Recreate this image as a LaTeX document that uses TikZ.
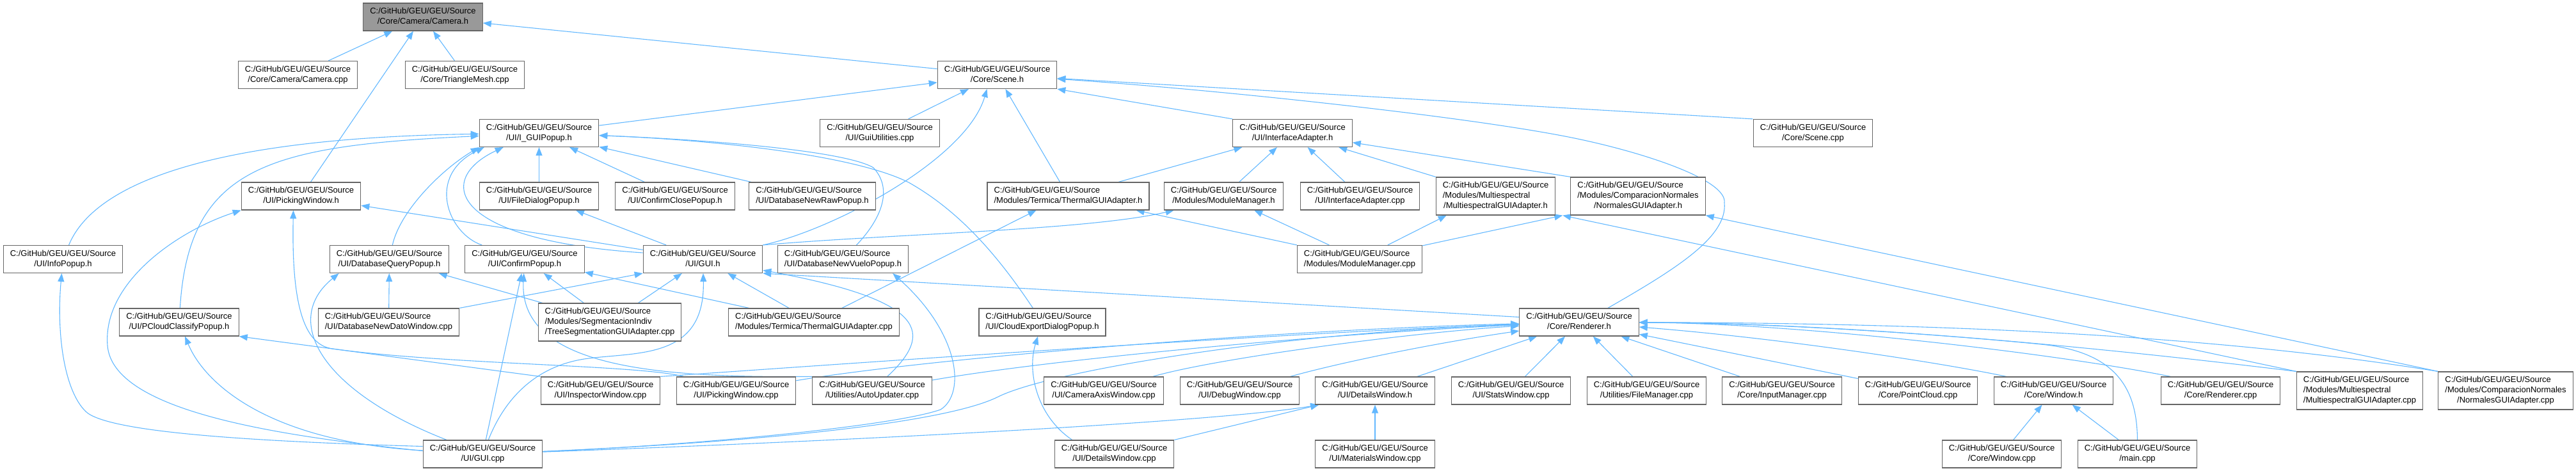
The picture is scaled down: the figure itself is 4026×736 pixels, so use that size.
\documentclass[tikz,border=0pt]{standalone}
\usepackage{fontspec}
\setmainfont{Liberation Sans}
\usetikzlibrary{arrows.meta}
\definecolor{edgec}{HTML}{63B8FF}
\definecolor{boxc}{HTML}{666666}
\definecolor{curc}{HTML}{999999}
\newcommand{\lb}[1]{\begin{tabular}{@{}l@{}}C:/GitHub/GEU/GEU/Source\\\multicolumn{1}{@{}c@{}}{#1}\end{tabular}}
\newcommand{\lbb}[2]{\begin{tabular}{@{}l@{}}C:/GitHub/GEU/GEU/Source\\#1\\\multicolumn{1}{@{}c@{}}{#2}\end{tabular}}
\pgfdeclarelayer{bg}
\pgfsetlayers{bg,main}
\begin{document}
\begin{tikzpicture}[x=1pt,y=-1pt,
  box/.style={draw=boxc,line width=1.2pt,fill=white,inner xsep=10.5pt,inner ysep=5.5pt,font=\fontsize{13}{16}\selectfont},
  curbox/.style={box,fill=curc},
  dep/.style={draw=edgec,line width=1.1pt,-{Triangle[length=13pt,width=10pt]}}]
\useasboundingbox (0,0) rectangle (4026,736);
% row 1
\node[curbox] (cameraH) at (661,26.5) {\lb{/Core/Camera/Camera.h}};
% row 2
\node[box] (cameraCpp) at (465.5,117) {\lb{/Core/Camera/Camera.cpp}};
\node[box] (trimeshCpp) at (726.5,117) {\lb{/Core/TriangleMesh.cpp}};
\node[box] (sceneH) at (1558.5,117) {\lb{/Core/Scene.h}};
% row 3
\node[box] (iguiH) at (842.5,208) {\lb{/UI/I\_GUIPopup.h}};
\node[box] (guiutilCpp) at (1375,208) {\lb{/UI/GuiUtilities.cpp}};
\node[box] (iadapterH) at (2020,208) {\lb{/UI/InterfaceAdapter.h}};
\node[box] (sceneCpp) at (2833.5,208) {\lb{/Core/Scene.cpp}};
% row 4
\node[box] (pickingH) at (470.5,306.5) {\lb{/UI/PickingWindow.h}};
\node[box] (filedlgH) at (842.5,306.5) {\lb{/UI/FileDialogPopup.h}};
\node[box] (confcloseH) at (1055,306.5) {\lb{/UI/ConfirmClosePopup.h}};
\node[box] (dbnewrawH) at (1269.5,306.5) {\lb{/UI/DatabaseNewRawPopup.h}};
\node[box] (thermalH) at (1669.5,306.5) {\lb{/Modules/Termica/ThermalGUIAdapter.h}};
\node[box] (modmgrH) at (1912.5,306.5) {\lb{/Modules/ModuleManager.h}};
\node[box] (iadapterCpp) at (2125.5,306.5) {\lb{/UI/InterfaceAdapter.cpp}};
\node[box] (multiH) at (2337.5,306.5) {\lbb{/Modules/Multiespectral}{/MultiespectralGUIAdapter.h}};
\node[box] (normalesH) at (2560,306.5) {\lbb{/Modules/ComparacionNormales}{/NormalesGUIAdapter.h}};
% row 5
\node[box] (infoH) at (98.5,405) {\lb{/UI/InfoPopup.h}};
\node[box] (dbqueryH) at (608.5,405) {\lb{/UI/DatabaseQueryPopup.h}};
\node[box] (confirmH) at (820,405) {\lb{/UI/ConfirmPopup.h}};
\node[box] (guiH) at (1098.5,405) {\lb{/UI/GUI.h}};
\node[box] (dbnewvueloH) at (1317.5,405) {\lb{/UI/DatabaseNewVueloPopup.h}};
\node[box] (modmgrCpp) at (2125,405) {\lb{/Modules/ModuleManager.cpp}};
% row 6
\node[box] (pcloudH) at (280,503.5) {\lb{/UI/PCloudClassifyPopup.h}};
\node[box] (dbnewdatoCpp) at (607.5,503.5) {\lb{/UI/DatabaseNewDatoWindow.cpp}};
\node[box] (treesegCpp) at (953,503.5) {\lbb{/Modules/SegmentacionIndiv}{/TreeSegmentationGUIAdapter.cpp}};
\node[box] (thermalCpp) at (1272,503.5) {\lb{/Modules/Termica/ThermalGUIAdapter.cpp}};
\node[box] (cloudexpH) at (1629,503.5) {\lb{/UI/CloudExportDialogPopup.h}};
\node[box] (rendererH) at (2468,503.5) {\lb{/Core/Renderer.h}};
% row 7
\node[box] (inspectorCpp) at (938.5,610.5) {\lb{/UI/InspectorWindow.cpp}};
\node[box] (pickwinCpp) at (1150.5,610.5) {\lb{/UI/PickingWindow.cpp}};
\node[box] (autoupdCpp) at (1363,610.5) {\lb{/Utilities/AutoUpdater.cpp}};
\node[box] (camaxisCpp) at (1725,610.5) {\lb{/UI/CameraAxisWindow.cpp}};
\node[box] (debugCpp) at (1937.5,610.5) {\lb{/UI/DebugWindow.cpp}};
\node[box] (detailsH) at (2149,610.5) {\lb{/UI/DetailsWindow.h}};
\node[box] (statsCpp) at (2361.5,610.5) {\lb{/UI/StatsWindow.cpp}};
\node[box] (filemgrCpp) at (2573.5,610.5) {\lb{/Utilities/FileManager.cpp}};
\node[box] (inputmgrCpp) at (2785,610.5) {\lb{/Core/InputManager.cpp}};
\node[box] (pointcloudCpp) at (2997.5,610.5) {\lb{/Core/PointCloud.cpp}};
\node[box] (windowH) at (3209.5,610.5) {\lb{/Core/Window.h}};
\node[box] (rendererCpp) at (3470.5,610.5) {\lb{/Core/Renderer.cpp}};
\node[box] (multiCpp) at (3688,610.5) {\lbb{/Modules/Multiespectral}{/MultiespectralGUIAdapter.cpp}};
\node[box] (normalesCpp) at (3916,610.5) {\lbb{/Modules/ComparacionNormales}{/NormalesGUIAdapter.cpp}};
% row 8
\node[box] (guiCpp) at (754.5,709.5) {\lb{/UI/GUI.cpp}};
\node[box] (detailsCpp) at (1741.5,709.5) {\lb{/UI/DetailsWindow.cpp}};
\node[box] (materialsCpp) at (2149,709.5) {\lb{/UI/MaterialsWindow.cpp}};
\node[box] (windowCpp) at (3128.5,709.5) {\lb{/Core/Window.cpp}};
\node[box] (mainCpp) at (3340.5,709.5) {\lb{/main.cpp}};

\begin{pgfonlayer}{bg}
% Camera.h
\draw[dep] (cameraCpp) -- (cameraH);
\draw[dep] (trimeshCpp) -- (cameraH);
\draw[dep] (pickingH) -- (cameraH);
\draw[dep] (sceneH) -- (cameraH);
% Scene.h
\draw[dep] (iguiH) -- (sceneH);
\draw[dep] (guiutilCpp) -- (sceneH);
\draw[dep] (guiH.north east) .. controls (1300,360) and (1510,250) .. ([xshift=-16pt]sceneH.south);
\draw[dep] (thermalH) -- (sceneH);
\draw[dep] (iadapterH.north west) -- (sceneH.south east);
\draw[dep] (sceneCpp.north west) -- (sceneH);
\draw[dep] ([xshift=-49pt]rendererH.north east) .. controls (2620,420) and (2700,370) .. (2695,317) .. controls (2700,280) and (2560,235) .. (2446,213) .. controls (2275,180) and (1900,140) .. (sceneH);
% I_GUIPopup.h
\draw[dep] (infoH) .. controls (150,280) and (350,215) .. (iguiH);
\draw[dep] (pcloudH) .. controls (295,260) and (420,228) .. (iguiH);
\draw[dep] (dbqueryH) .. controls (625,330) and (690,265) .. (iguiH.south west);
\draw[dep] ([xshift=27pt]confirmH.north west) .. controls (700,365) and (665,275) .. ([xshift=8pt]iguiH.south west);
\draw[dep] ([yshift=10pt]guiH.west) .. controls (700,375) and (680,280) .. ([xshift=38pt]iguiH.south west);
\draw[dep] (filedlgH) -- (iguiH);
\draw[dep] (confcloseH) -- (iguiH);
\draw[dep] (dbnewrawH) -- (iguiH);
\draw[dep] (dbnewvueloH) .. controls (1370,350) and (1400,300) .. (1365,262) .. controls (1320,235) and (1100,218) .. (iguiH);
\draw[dep] (cloudexpH) .. controls (1560,400) and (1500,330) .. (1420,285) .. controls (1330,240) and (1100,218) .. (iguiH);
% InterfaceAdapter.h
\draw[dep] (thermalH) -- (iadapterH);
\draw[dep] (modmgrH) -- (iadapterH);
\draw[dep] (iadapterCpp) -- (iadapterH);
\draw[dep] (multiH.north west) -- (iadapterH);
\draw[dep] (normalesH.north west) -- (iadapterH);
% PickingWindow.h
\draw[dep] (guiH) -- (pickingH);
\draw[dep] ([yshift=5pt]guiCpp.west) .. controls (420,680) and (176,640) .. (168,540) .. controls (160,440) and (280,360) .. (pickingH.south west);
\draw[dep] (pickwinCpp) .. controls (1000,570) and (700,570) .. (520,545) .. controls (480,540) and (455,490) .. ([xshift=-12pt]pickingH.south);
% FileDialogPopup.h
\draw[dep] (guiH) -- (filedlgH);
% ThermalGUIAdapter.h
\draw[dep] (thermalCpp) -- ([xshift=-50pt]thermalH.south);
\draw[dep] (modmgrCpp.north west) -- ([xshift=-21pt]thermalH.south east);
% ModuleManager.h
\draw[dep] (guiH.north east) .. controls (1400,365) and (1700,360) .. ([xshift=16pt]modmgrH.south west);
\draw[dep] (modmgrCpp) -- (modmgrH);
% Multiespectral / Normales
\draw[dep] (modmgrCpp) -- ([xshift=17pt]multiH.south west);
\draw[dep] (modmgrCpp) -- ([xshift=-12pt]normalesH.south west);
\draw[dep] (multiCpp.north west) -- ([xshift=-12pt]normalesH.south west);
\draw[dep] (normalesCpp.north west) -- (normalesH.south east);
% InfoPopup.h
\draw[dep] ([yshift=12pt]guiCpp.west) .. controls (400,690) and (168,676) .. (134,643) .. controls (100,610) and (88,520) .. (infoH);
% DatabaseQueryPopup.h
\draw[dep] (dbnewdatoCpp) -- (dbqueryH);
\draw[dep] (treesegCpp) -- (dbqueryH);
\draw[dep] (guiCpp) .. controls (500,610) and (440,500) .. ([xshift=15pt]dbqueryH.south west);
% ConfirmPopup.h
\draw[dep] (treesegCpp) -- (confirmH);
\draw[dep] (thermalCpp) -- (confirmH);
\draw[dep] (guiCpp) -- (confirmH);
\draw[dep] (autoupdCpp.north west) .. controls (1050,590) and (810,580) .. (confirmH);
% GUI.h
\draw[dep] (dbnewdatoCpp.north east) -- (guiH.south west);
\draw[dep] (treesegCpp) -- (guiH);
\draw[dep] (thermalCpp) -- (guiH);
\draw[dep] (guiCpp) .. controls (790,620) and (840,570) .. (920,560) .. controls (1000,550) and (1102,560) .. (guiH);
\draw[dep] (autoupdCpp) .. controls (1460,520) and (1450,470) .. (guiH);
\draw[dep] ([yshift=8pt]rendererH.west) -- (guiH.south east);
% DatabaseNewVueloPopup.h
\draw[dep] (guiCpp) .. controls (1100,695) and (1400,665) .. (1470,640) .. controls (1510,615) and (1500,520) .. ([xshift=-25pt]dbnewvueloH.south east);
% PCloudClassifyPopup.h
\draw[dep] (inspectorCpp.north west) -- (pcloudH.south east);
\draw[dep] (guiCpp) .. controls (420,690) and (320,600) .. (pcloudH);
% CloudExportDialogPopup.h
\draw[dep] ([xshift=28pt]detailsCpp.north west) .. controls (1620,650) and (1605,580) .. (cloudexpH);
% Renderer.h
\draw[dep] (guiCpp) .. controls (1200,690) and (1480,660) .. (1560,620) .. controls (1640,580) and (2000,520) .. (rendererH);
\draw[dep] (inspectorCpp.north east) .. controls (1300,570) and (2000,520) .. (rendererH);
\draw[dep] (pickwinCpp) .. controls (1450,560) and (2000,515) .. (rendererH);
\draw[dep] (autoupdCpp) .. controls (1650,560) and (2100,520) .. (rendererH);
\draw[dep] (camaxisCpp) .. controls (1900,560) and (2200,520) .. (rendererH);
\draw[dep] (debugCpp) .. controls (2100,565) and (2250,535) .. (rendererH);
\draw[dep] (detailsH) -- (rendererH);
\draw[dep] (statsCpp) -- (rendererH);
\draw[dep] (filemgrCpp) -- (rendererH);
\draw[dep] (inputmgrCpp) -- (rendererH);
\draw[dep] (pointcloudCpp) -- (rendererH);
\draw[dep] ([xshift=20pt]windowH.north west) .. controls (3050,570) and (2800,530) .. (rendererH);
\draw[dep] ([xshift=16pt]rendererCpp.north west) .. controls (3200,550) and (2800,505) .. (rendererH);
\draw[dep] (mainCpp.north) .. controls (3340,610) and (3310,550) .. (3190,538) .. controls (3070,526) and (2800,505) .. (rendererH);
\draw[dep] (multiCpp.north west) .. controls (3300,545) and (2900,505) .. (rendererH);
\draw[dep] (normalesCpp.north west) .. controls (3500,530) and (3100,505) .. (rendererH);
% DetailsWindow.h
\draw[dep] (detailsCpp.north east) -- ([xshift=6pt]detailsH.south west);
\draw[dep] (materialsCpp) -- (detailsH);
\draw[dep] (guiCpp) .. controls (1300,690) and (1900,660) .. ([xshift=6pt]detailsH.south west);
% Window.h
\draw[dep] (windowCpp) -- (windowH);
\draw[dep] (mainCpp) -- (windowH);
\end{pgfonlayer}
\end{tikzpicture}
\end{document}
